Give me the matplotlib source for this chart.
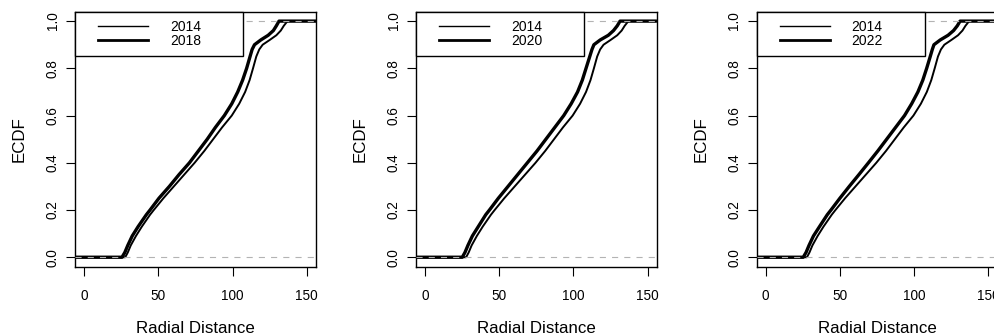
import numpy as np
import matplotlib
matplotlib.use("Agg")
import matplotlib.pyplot as plt
from matplotlib.lines import Line2D
from matplotlib.legend_handler import HandlerLine2D

plt.rcParams['font.family'] = ['Liberation Sans', 'DejaVu Sans']

# ECDF levels and the radial distance reached at each level
ecdf_levels = [0.00, 0.02, 0.05, 0.09, 0.13, 0.18, 0.20, 0.25, 0.30, 0.35,
               0.40, 0.45, 0.50, 0.55, 0.60, 0.65, 0.70, 0.75, 0.80, 0.85,
               0.88, 0.90, 0.92, 0.94, 0.96, 0.98, 1.00]

dist_2014 = [27.8, 29.5, 31.5, 35.0, 39.0, 44.5, 47.0, 53.5, 60.5, 67.5,
             74.5, 81.0, 87.0, 93.0, 99.5, 104.5, 108.5, 111.5, 113.8, 116.0,
             118.0, 120.3, 125.0, 129.5, 132.5, 134.5, 137.0]

dist_2018 = [25.6, 27.5, 29.5, 32.5, 36.5, 42.0, 44.5, 50.5, 57.5, 64.0,
             71.0, 77.0, 83.0, 88.5, 94.5, 99.5, 103.5, 106.8, 109.5, 111.8,
             113.2, 114.8, 119.0, 124.0, 127.5, 129.5, 131.3]

dist_2020 = [25.2, 27.0, 29.0, 32.0, 36.0, 41.0, 43.5, 49.5, 56.0, 62.5,
             69.0, 75.5, 81.5, 87.5, 93.5, 98.5, 102.8, 106.0, 108.5, 111.0,
             112.5, 113.8, 118.0, 123.5, 127.0, 129.5, 131.4]

dist_2022 = [25.3, 27.2, 29.2, 32.2, 36.3, 41.5, 44.0, 50.0, 56.3, 62.8,
             69.2, 75.5, 81.5, 87.5, 93.5, 98.3, 102.5, 105.8, 108.4, 110.8,
             112.2, 113.3, 117.5, 122.8, 126.5, 129.0, 130.9]

base_year = "2014"
compare_years = ["2018", "2020", "2022"]
compare_dists = [dist_2018, dist_2020, dist_2022]

x_ticks = [0, 50, 100, 150]
y_ticks = [0.0, 0.2, 0.4, 0.6, 0.8, 1.0]
x_range = (-6.0, 156.2)
y_range = (-0.04, 1.04)

THIN_LW, THICK_LW = 1.4, 2.4
REF_GRAY = "#B3B3B3"


def draw_ecdf(ax, dist, lw):
    """Draw an ECDF curve, extended flat to the plot edges."""
    xs = np.r_[x_range[0], dist, x_range[1]]
    ys = np.r_[ecdf_levels[0], ecdf_levels, ecdf_levels[-1]]
    ax.plot(xs, ys, color="black", lw=lw, solid_capstyle="butt",
            solid_joinstyle="round", zorder=2)


fig = plt.figure(figsize=(9.95, 3.36), dpi=100)
panel_lefts = [0.0754, 0.418, 0.7605]

for left, year, dist in zip(panel_lefts, compare_years, compare_dists):
    ax = fig.add_axes([left, 0.2063, 0.2422, 0.759])
    ax.set_xlim(*x_range)
    ax.set_ylim(*y_range)

    draw_ecdf(ax, dist_2014, THIN_LW)
    draw_ecdf(ax, dist, THICK_LW)

    for level in (0.0, 1.0):
        ax.axhline(level, color=REF_GRAY, lw=0.8, ls=(0, (5.5, 5.5)), zorder=3)

    for sp in ax.spines.values():
        sp.set_linewidth(1.0)
        sp.set_color("black")

    ax.set_xticks(x_ticks, labels=[str(t) for t in x_ticks])
    ax.set_yticks(y_ticks, labels=[f"{t:.1f}" for t in y_ticks],
                  rotation=90, va="center")
    ax.tick_params(direction="out", length=6.5, width=0.8, labelsize=9.8,
                   colors="black")
    ax.tick_params(axis="x", pad=9.5)
    ax.tick_params(axis="y", pad=4.5)

    ax.set_xlabel("Radial Distance", fontsize=12.2)
    ax.xaxis.set_label_coords(0.5, -0.212)
    ax.set_ylabel("ECDF", fontsize=12.2)
    ax.yaxis.set_label_coords(-0.2, 0.5)

    handles = [Line2D([], [], color="black", lw=1.0),
               Line2D([], [], color="black", lw=2.0)]
    leg = ax.legend(handles, [base_year, year], loc="upper left",
                    bbox_to_anchor=(0, 0, 0.697, 1), mode="expand",
                    borderaxespad=0, borderpad=0.58, labelspacing=0.0,
                    handlelength=4.7, handletextpad=1.56, fontsize=10,
                    fancybox=False, framealpha=1, edgecolor="black",
                    handler_map={Line2D: HandlerLine2D(xpad=1.1)})
    leg.get_frame().set_linewidth(1.0)

fig.savefig("out.png", dpi=100)
